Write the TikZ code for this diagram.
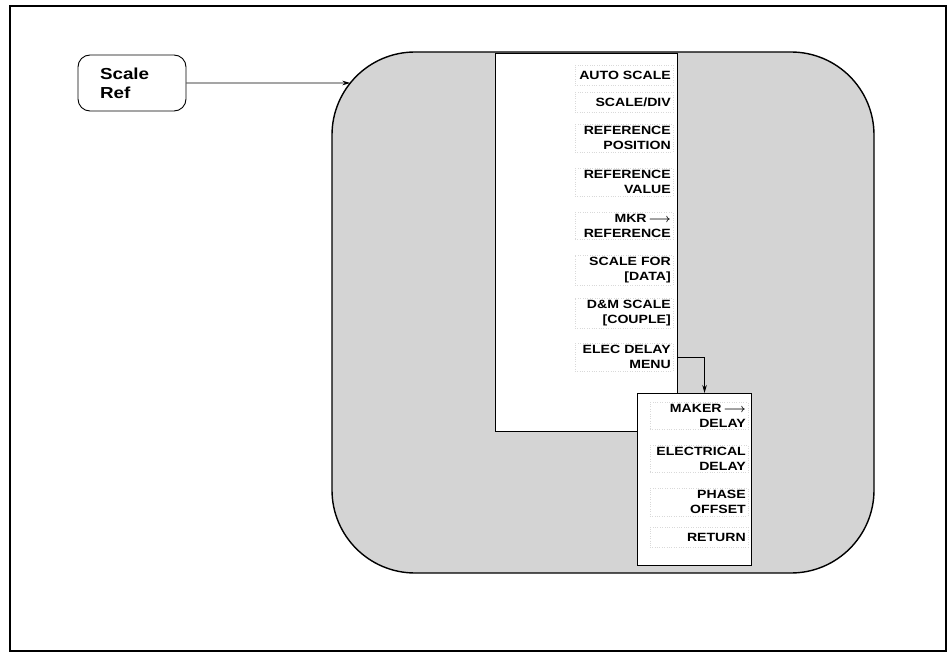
\documentclass[tikz,border=0pt]{standalone}
\usepackage{fontspec}
\setmainfont{Liberation Sans}
\newfontfamily\keyfont{Liberation Sans}[FakeStretch=1.18]
\usetikzlibrary{positioning, arrows.meta, intersections}

\newcommand{\keyarrow}{\,{\boldmath$\longrightarrow$}}

\tikzset{
  arr/.style={-{Stealth[length=8bp,width=4.5bp]}, line width=0.9bp},
  keylabel/.style={font=\keyfont\bfseries\fontsize{12}{15}\selectfont,
    text width=94bp, align=right, inner sep=2bp, anchor=east,
    minimum height=20bp, draw=black!15, dotted},
  menubox/.style={draw, line width=1.1bp, fill=white, inner sep=0pt, anchor=north west}
}

\begin{document}
\begin{tikzpicture}[x=1bp, y=-1bp]
      \useasboundingbox (0,0) rectangle (949,654);
      % 1. outer frame
      \draw[line width=2.2bp] (10,6) rectangle (946,651);

      % 2. the shaded display area
      \draw[name path=shape, fill=black!17, line width=1.4bp, rounded corners=83bp]
        (332,52) rectangle (874,573);

      % 3. the key that opens the menu
      \node[draw, line width=0.9bp, rounded corners=12bp, minimum width=108bp,
        minimum height=56bp, text width=64bp, align=left, inner sep=0pt,
        font=\keyfont\bfseries\fontsize{16}{19}\selectfont] (S) at (132,83) {Scale\\Ref};
      \path[name path=ray] (S.east) -- ++(300,0);
      \path[name intersections={of=ray and shape, by=T}];
      \draw[arr] (S.east) -- (T);

      % 4. softkey menu and its labels
      \node[menubox, minimum width=182bp, minimum height=378bp] (M) at (495,53) {};
      \node[keylabel] (K1) at (673,75) {AUTO SCALE};
      \node[keylabel] (K2) at (673,102) {SCALE/DIV};
      \node[keylabel] (K3) at (673,138) {REFERENCE\\POSITION};
      \node[keylabel] (K4) at (673,182) {REFERENCE\\VALUE};
      \node[keylabel] (K5) at (673,226) {MKR\keyarrow\\REFERENCE};
      \node[keylabel] (K6) at (673,270) {SCALE FOR\\{[DATA]}};
      \node[keylabel] (K7) at (673,313) {D\&M SCALE\\{[COUPLE]}};
      \node[keylabel] (K8) at (673,357) {ELEC DELAY\\MENU};

      % 5. sub menu reached from ELEC DELAY MENU
      \node[menubox, minimum width=114bp, minimum height=172bp] (N) at (637,393) {};
      \node[keylabel] (L1) at (748,416) {MAKER\keyarrow\\DELAY};
      \node[keylabel] (L2) at (748,459) {ELECTRICAL\\DELAY};
      \node[keylabel] (L3) at (748,502) {PHASE\\OFFSET};
      \node[keylabel] (L4) at (748,537) {RETURN};

      \draw[arr] (M.east |- K8) -| ([xshift=10bp]N.north);
    \end{tikzpicture}
\end{document}
